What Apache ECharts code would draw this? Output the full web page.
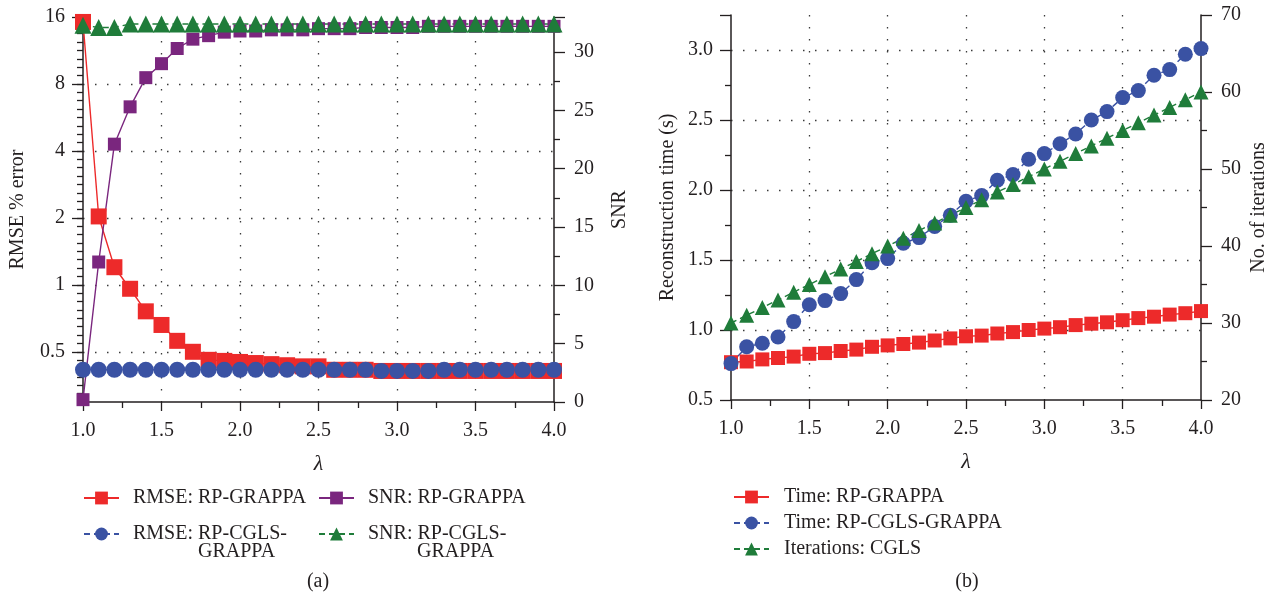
<!DOCTYPE html>
<html>
<head>
<meta charset="utf-8">
<script src="https://cdn.jsdelivr.net/npm/echarts@6/dist/echarts.min.js"></script>
<style>
  html, body { margin: 0; padding: 0; background: #fff; }
  #chart { width: 1280px; height: 595px; }
</style>
</head>
<body>
<div id="chart"></div>
<script>
// lambda values shared by both panels
const lambdas = [1.0, 1.1, 1.2, 1.3, 1.4, 1.5, 1.6, 1.7, 1.8, 1.9, 2.0, 2.1, 2.2, 2.3, 2.4, 2.5,
  2.6, 2.7, 2.8, 2.9, 3.0, 3.1, 3.2, 3.3, 3.4, 3.5, 3.6, 3.7, 3.8, 3.9, 4.0];

// panel (a)
const rmseGrappa = [15.2, 2.03, 1.2, 0.96, 0.76, 0.66, 0.56, 0.5, 0.46, 0.455, 0.45, 0.445, 0.44, 0.435, 0.43, 0.43,
  0.415, 0.415, 0.415, 0.41, 0.41, 0.41, 0.41, 0.41, 0.41, 0.41, 0.41, 0.41, 0.41, 0.41, 0.41];
const rmseCgls = [0.415, 0.415, 0.415, 0.415, 0.415, 0.415, 0.415, 0.415, 0.415, 0.415, 0.415, 0.415, 0.415, 0.415, 0.415, 0.415,
  0.415, 0.415, 0.415, 0.41, 0.41, 0.41, 0.41, 0.415, 0.415, 0.415, 0.415, 0.415, 0.415, 0.415, 0.415];
const snrGrappa = [0.2, 12.0, 22.1, 25.3, 27.8, 29.0, 30.3, 31.1, 31.4, 31.7, 31.8, 31.8, 31.9, 31.9, 31.9, 32.0,
  32.0, 32.0, 32.1, 32.1, 32.1, 32.1, 32.2, 32.2, 32.2, 32.2, 32.2, 32.2, 32.2, 32.2, 32.2];
const snrCgls = [32.3, 32.1, 32.1, 32.4, 32.4, 32.4, 32.4, 32.4, 32.4, 32.4, 32.4, 32.4, 32.4, 32.4, 32.4, 32.4,
  32.4, 32.4, 32.4, 32.4, 32.4, 32.4, 32.4, 32.4, 32.4, 32.4, 32.4, 32.4, 32.4, 32.4, 32.4];

// panel (b)
const timeGrappa = [0.77, 0.775, 0.79, 0.80, 0.81, 0.83, 0.835, 0.85, 0.86, 0.88, 0.89, 0.90, 0.91, 0.925, 0.94, 0.955,
  0.96, 0.975, 0.985, 1.0, 1.01, 1.02, 1.035, 1.045, 1.055, 1.07, 1.085, 1.095, 1.11, 1.12, 1.135];
const timeCgls = [0.76, 0.88, 0.905, 0.95, 1.06, 1.18, 1.21, 1.26, 1.36, 1.48, 1.51, 1.62, 1.66, 1.74, 1.82, 1.92,
  1.96, 2.07, 2.11, 2.22, 2.26, 2.33, 2.40, 2.50, 2.56, 2.66, 2.71, 2.82, 2.86, 2.97, 3.01];
const iterCgls = [30, 31, 32, 33, 34, 35, 36, 37, 38, 39, 40, 41, 42, 43, 44, 45,
  46, 47, 48, 49, 50, 51, 52, 53, 54, 55, 56, 57, 58, 59, 60];

const FONT = 'Liberation Serif';
const INK = '#231f20';
const RED = '#ed2a2a', BLUE = '#3a52a3', PURPLE = '#7a267e', GREEN = '#1f7c3a';

const dotted = { type: [1.5, 10.5], color: '#3a3a3a', width: 1.3 };
const labelStyle = { fontFamily: FONT, fontSize: 20, color: INK };
const nameStyle = { fontFamily: FONT, fontSize: 20, color: INK };

// log2 range of the RMSE axis; a helper linear axis over the same range
// draws the eighth-of-an-octave minor ticks
const logLow = -1.75, logHigh = 4;

function pairs(ys) {
  return lambdas.map((x, i) => [x, ys[i]]);
}

function xAxisFor(gridIndex) {
  return {
    type: 'value', gridIndex: gridIndex, min: 1, max: 4, interval: 0.5,
    name: 'λ', nameLocation: 'middle', nameGap: 51,
    nameTextStyle: { fontFamily: FONT, fontSize: 22, fontStyle: 'italic', color: INK },
    axisLine: { onZero: false, lineStyle: { color: INK, width: 1.5 } },
    axisTick: { length: 9, lineStyle: { color: INK, width: 1.3 } },
    minorTick: { show: true, splitNumber: 2, length: 6, lineStyle: { color: INK, width: 1.3 } },
    axisLabel: Object.assign({ margin: 19, formatter: v => v.toFixed(1) }, labelStyle),
    splitLine: { show: true, showMinLine: false, showMaxLine: false, lineStyle: dotted }
  };
}

function yAxisBase(extra) {
  return Object.assign({
    nameLocation: 'middle', nameRotate: 90, nameTextStyle: nameStyle,
    axisLine: { show: true, lineStyle: { color: INK, width: 1.5 } },
    axisTick: { show: true, length: 11, lineStyle: { color: INK, width: 1.3 } },
    minorTick: { show: true, length: 6, lineStyle: { color: INK, width: 1.3 } },
    splitLine: { show: false }
  }, extra);
}

function line(name, ys, x, y, color, symbol, size, dashed) {
  return {
    name: name, type: 'line', xAxisIndex: x, yAxisIndex: y,
    data: pairs(ys), symbol: symbol, symbolSize: size,
    color: color,
    lineStyle: { color: color, width: 1.4, type: dashed ? [6, 4] : 'solid' },
    itemStyle: { color: color, opacity: 1 },
    emphasis: { disabled: true },
    animation: false
  };
}

const chart = echarts.init(document.getElementById('chart'), null, { renderer: 'canvas' });

const legendRich = {
  a: { fontFamily: FONT, fontSize: 20, color: INK, lineHeight: 18 },
  b: { fontFamily: FONT, fontSize: 20, color: INK, lineHeight: 18, padding: [0, 0, 0, 65] },
  c: { fontFamily: FONT, fontSize: 20, color: INK, lineHeight: 18, padding: [0, 0, 0, 49] }
};
const legendLabels = {
  'RMSE: RP-GRAPPA': '{a|RMSE: RP-GRAPPA}',
  'RMSE: RP-CGLS-GRAPPA': '{a|RMSE: RP-CGLS-}\n{b|GRAPPA}',
  'SNR: RP-GRAPPA': '{a|SNR: RP-GRAPPA}',
  'SNR: RP-CGLS-GRAPPA': '{a|SNR: RP-CGLS-}\n{c|GRAPPA}'
};
function legendA(left, names) {
  return {
    orient: 'vertical', left: left, top: 488, padding: 0,
    itemWidth: 35, itemHeight: 16, itemGap: -1,
    selectedMode: false,
    formatter: n => legendLabels[n],
    textStyle: { fontFamily: FONT, fontSize: 20, color: INK, lineHeight: 18, padding: [0, 0, 0, 9], rich: legendRich },
    data: [
      { name: names[0] },
      { name: names[1], textStyle: { padding: [18, 0, 0, 9] } }
    ]
  };
}

const option = {
  backgroundColor: '#fff',
  animation: false,
  grid: [
    { left: 83, right: 726, top: 17, bottom: 193 },
    { left: 731, right: 79, top: 15, bottom: 195 }
  ],
  xAxis: [xAxisFor(0), xAxisFor(1)],
  yAxis: [
    yAxisBase({
      type: 'log', logBase: 2, gridIndex: 0, min: Math.pow(2, logLow), max: Math.pow(2, logHigh), position: 'left',
      name: 'RMSE % error', nameGap: 55,
      minorTick: { show: false },
      axisLabel: Object.assign({ margin: 18, showMinLabel: false,
        formatter: v => String(parseFloat(Number(v).toPrecision(6))) }, labelStyle),
      splitLine: { show: true, showMinLine: false, showMaxLine: false, lineStyle: dotted }
    }),
    yAxisBase({
      type: 'value', gridIndex: 0, min: 0, max: 33, interval: 5, position: 'right',
      name: 'SNR', nameGap: 56,
      minorTick: { show: true, splitNumber: 2, length: 6, lineStyle: { color: INK, width: 1.3 } },
      axisLabel: Object.assign({ margin: 20, showMaxLabel: false }, labelStyle)
    }),
    yAxisBase({
      type: 'value', gridIndex: 1, min: 0.5, max: 3.25, interval: 0.5, position: 'left',
      name: 'Reconstruction time (s)', nameGap: 53,
      minorTick: { show: true, splitNumber: 2, length: 6, lineStyle: { color: INK, width: 1.3 } },
      axisLabel: Object.assign({ margin: 18, showMaxLabel: false, formatter: v => v.toFixed(1) }, labelStyle),
      splitLine: { show: true, showMinLine: false, showMaxLine: false, lineStyle: dotted }
    }),
    yAxisBase({
      type: 'value', gridIndex: 1, min: 20, max: 70, interval: 10, position: 'right',
      name: 'No. of iterations', nameGap: 48,
      minorTick: { show: true, splitNumber: 2, length: 6, lineStyle: { color: INK, width: 1.3 } },
      axisLabel: Object.assign({ margin: 20 }, labelStyle)
    }),
    // helper axis carrying the minor ticks of the log RMSE axis
    {
      type: 'value', gridIndex: 0, min: logLow, max: logHigh, interval: 0.125, position: 'left',
      axisLine: { show: false },
      axisLabel: { show: false },
      splitLine: { show: false },
      axisTick: { show: true, length: 6, lineStyle: { color: INK, width: 1.3 } }
    }
  ],
  legend: [
    legendA(83, ['RMSE: RP-GRAPPA', 'RMSE: RP-CGLS-GRAPPA']),
    legendA(318, ['SNR: RP-GRAPPA', 'SNR: RP-CGLS-GRAPPA']),
    {
      orient: 'vertical', left: 733, top: 487, padding: 0,
      itemWidth: 35, itemHeight: 16, itemGap: 6,
      selectedMode: false,
      textStyle: { fontFamily: FONT, fontSize: 20, color: INK, lineHeight: 20, padding: [0, 0, 0, 10] },
      data: ['Time: RP-GRAPPA', 'Time: RP-CGLS-GRAPPA', 'Iterations: CGLS']
    }
  ],
  graphic: [
    { type: 'text', x: 318, y: 582, style: { text: '(a)', font: '20px "Liberation Serif"', fill: INK, align: 'center', verticalAlign: 'middle' } },
    { type: 'text', x: 967, y: 582, style: { text: '(b)', font: '20px "Liberation Serif"', fill: INK, align: 'center', verticalAlign: 'middle' } }
  ],
  series: [
    line('RMSE: RP-GRAPPA', rmseGrappa, 0, 0, RED, 'rect', 16, false),
    line('RMSE: RP-CGLS-GRAPPA', rmseCgls, 0, 0, BLUE, 'circle', 16, true),
    line('SNR: RP-GRAPPA', snrGrappa, 0, 1, PURPLE, 'rect', 13, false),
    line('SNR: RP-CGLS-GRAPPA', snrCgls, 0, 1, GREEN, 'triangle', 17, true),
    line('Time: RP-GRAPPA', timeGrappa, 1, 2, RED, 'rect', 14, false),
    line('Time: RP-CGLS-GRAPPA', timeCgls, 1, 2, BLUE, 'circle', 15, true),
    line('Iterations: CGLS', iterCgls, 1, 3, GREEN, 'triangle', 15, true)
  ]
};

chart.setOption(option);
</script>
</body>
</html>
